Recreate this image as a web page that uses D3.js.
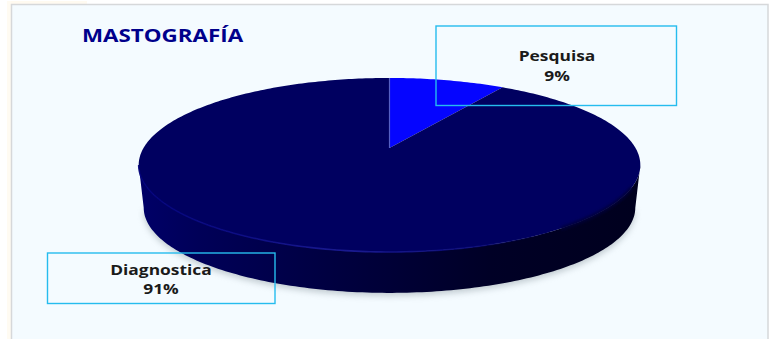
<!DOCTYPE html>
<html lang="es">
<head>
<meta charset="utf-8">
<style>
  html, body { margin: 0; padding: 0; background: #fff; }
  svg { display: block; }
  text { font-family: "Open Sans", sans-serif; font-weight: 700; text-anchor: middle; }
</style>
<script src="https://cdn.jsdelivr.net/npm/d3@7"></script>
</head>
<body>
<svg id="chart" width="773" height="339"></svg>
<script>
const chartTitle = "MASTOGRAFÍA";
const categories = ["Pesquisa", "Diagnostica"];
const shares = [9, 91];
const sliceColors = ["#0505ff", "#000060"];

const svg = d3.select("#chart");
const defs = svg.append("defs");

// Perspective disc: far edge is foreshortened relative to the near edge.
const cx = 389.5, cy = 148, radiusX = 246, radiusY = 83.7, tilt = 0.195;
const rimDrop = 43, rimScale = 0.98;

function project(angle, scale = 1, drop = 0) {
  const u = Math.sin(angle), v = Math.cos(angle), w = 1 + tilt * v;
  return [cx + scale * radiusX * u / w, cy + drop - scale * radiusY * v / w];
}

const trace = d3.line();
const sweep = (a0, a1, scale, drop) => {
  const n = Math.max(2, Math.ceil(Math.abs(a1 - a0) * 60));
  return d3.range(n + 1).map(i => project(a0 + (a1 - a0) * i / n, scale, drop));
};

const slices = d3.pie().sort(null).value(d => d)(shares);
const TAU = Math.PI * 2;
// Angle at which the projected disc reaches its widest point on the right
const widest = Math.acos(-tilt);

// Panel
svg.append("rect").attr("x", 7).attr("y", 1).attr("width", 80).attr("height", 4).attr("fill", "#fffaf0");
svg.append("rect").attr("x", 7).attr("y", 1).attr("width", 4).attr("height", 338).attr("fill", "#fffbf2");
svg.append("rect")
  .attr("x", 11.5).attr("y", 4.5).attr("width", 756.5).attr("height", 340)
  .attr("fill", "#f4fbff").attr("stroke", "#d6d8da").attr("stroke-width", 1.5);

// Rim outline: down from the widest points of the top face, around the lower edge
const rimOutline = trace(
  sweep(TAU - widest, widest, 1, 0).concat(sweep(widest, TAU - widest, rimScale, rimDrop))
) + "Z";

// Soft shadow beneath the disc
const blur = defs.append("filter").attr("id", "soft")
  .attr("x", "-10%").attr("y", "-10%").attr("width", "120%").attr("height", "120%");
blur.append("feGaussianBlur").attr("stdDeviation", 3);
svg.append("path")
  .attr("d", trace(sweep(widest, TAU - widest, rimScale, rimDrop + 3)))
  .attr("fill", "#8f9ba3").attr("opacity", 0.5).attr("filter", "url(#soft)");

// Rim shading runs from lighter navy on the left to near black on the right
const rimGrad = defs.append("linearGradient").attr("id", "rimShade")
  .attr("gradientUnits", "userSpaceOnUse")
  .attr("x1", 138).attr("x2", 641).attr("y1", 0).attr("y2", 0);
[[0, "#000068"], [0.12, "#000058"], [0.4, "#00003f"], [0.7, "#000026"], [1, "#00001e"]]
  .forEach(([o, c]) => rimGrad.append("stop").attr("offset", o).attr("stop-color", c));
svg.append("path").attr("d", rimOutline).attr("fill", "url(#rimShade)");

// Top face, one wedge per category
svg.selectAll("path.slice").data(slices).join("path")
  .attr("class", "slice")
  .attr("d", d => trace([[cx, cy]].concat(sweep(d.startAngle, d.endAngle, 1, 0))) + "Z")
  .attr("fill", (d, i) => sliceColors[i]);

// Bevel between top face and rim, soft on the right-hand side
const bevel = defs.append("filter").attr("id", "bevel")
  .attr("x", "-10%").attr("y", "-20%").attr("width", "120%").attr("height", "140%");
bevel.append("feGaussianBlur").attr("stdDeviation", 1.6);
svg.append("path")
  .attr("d", trace(sweep(widest + 0.25, Math.PI * 0.8, 1, 0)))
  .attr("fill", "none").attr("stroke", "#00003a").attr("stroke-width", 3.5)
  .attr("filter", "url(#bevel)");

// Thin highlight along the near edge, fading out towards the right
const edgeGrad = defs.append("linearGradient").attr("id", "edgeGlow")
  .attr("gradientUnits", "userSpaceOnUse")
  .attr("x1", 140).attr("x2", 560).attr("y1", 0).attr("y2", 0);
[[0, "#00007a", 0.9], [0.5, "#1a1a90", 1], [0.8, "#0a0a80", 0.7], [1, "#000060", 0]]
  .forEach(([o, c, a]) => edgeGrad.append("stop").attr("offset", o).attr("stop-color", c).attr("stop-opacity", a));
svg.append("path")
  .attr("d", trace(sweep(TAU - widest, Math.PI * 0.75, 1, 0)))
  .attr("fill", "none").attr("stroke", "url(#edgeGlow)").attr("stroke-width", 1.6);

// Dividing line at the start of the first wedge
svg.append("path")
  .attr("d", trace([[cx, cy], project(slices[0].startAngle)]))
  .attr("stroke", "#5560c4").attr("stroke-width", 1.2).attr("fill", "none");

// Title, widened to the width of the heading
svg.append("text")
  .attr("transform", "translate(162.5,41.5) scale(1.28,1)")
  .attr("font-size", 17.5).attr("fill", "#00008b")
  .text(chartTitle);

// Callout boxes
const callouts = [
  { x: 436, y: 26, w: 240.5, h: 79.5, tx: 557, ty: [61, 81] },
  { x: 47.5, y: 253, w: 227.5, h: 50.5, tx: 161, ty: [275, 294] }
];
const boxes = svg.selectAll("g.callout").data(callouts).join("g").attr("class", "callout");
boxes.append("rect")
  .attr("x", d => d.x).attr("y", d => d.y).attr("width", d => d.w).attr("height", d => d.h)
  .attr("fill", "none").attr("stroke", "#25bcee").attr("stroke-width", 1.4);
boxes.append("text")
  .attr("transform", d => `translate(${d.tx},${d.ty[0]}) scale(1.2,1)`)
  .attr("font-size", 14.5).attr("fill", "#1a1a1a")
  .text((d, i) => categories[i]);
boxes.append("text")
  .attr("transform", d => `translate(${d.tx},${d.ty[1]}) scale(1.2,1)`)
  .attr("font-size", 14.5).attr("fill", "#1a1a1a")
  .text((d, i) => shares[i] + "%");
</script>
</body>
</html>
